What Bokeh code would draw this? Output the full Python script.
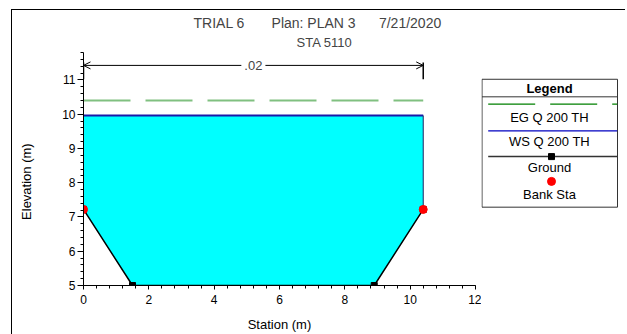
from bokeh.plotting import figure
from bokeh.layouts import row
from bokeh.models import Range1d, SingleIntervalTicker, Label, Arrow, OpenHead, Title
from bokeh.embed import file_html
from bokeh.resources import INLINE
from bokeh.core.properties import value

# ---------------- data ----------------
station = [0.0, 1.5, 8.9, 10.4]
ground_elev = [7.22, 5.0, 5.0, 7.22]
bank_station = [0.0, 10.4]
bank_elev = [7.22, 7.22]
ws_elev = 9.96
eg_elev = 10.40
n_value = ".02"
n_limits = [0.0, 10.4]
x_ticks_interval = 2
y_ticks_interval = 1
title_text = "TRIAL 6" + "\u00a0" * 7 + "Plan: PLAN 3" + "\u00a0" * 6 + "7/21/2020"
subtitle = "STA 5110"
legend_title = "Legend"
legend_labels = ["EG Q 200 TH", "WS Q 200 TH", "Ground", "Bank Sta"]
x_label = "Station (m)"
y_label = "Elevation (m)"

FONT = "Liberation Sans"
Y_START, Y_END = 5.0, 11.8
BORDERS = dict(min_border_top=42, min_border_bottom=47)


# window-pixel y -> elevation (layout helper for the n-value marker only)
def px_y(wy):
    return Y_START + (287.0 - wy) / 34.56


p = figure(width=469, height=324, x_range=Range1d(0, 12), y_range=Range1d(Y_START, Y_END),
           output_backend="svg", toolbar_location=None,
           min_border_left=71, min_border_right=6, **BORDERS)
p.outline_line_color = None
p.grid.visible = False

# titles (the later added title sits nearer to the frame)
p.title.text = title_text
p.title.align = "left"
p.title.offset = 110
p.title.standoff = 0
p.title.text_font = FONT
p.title.text_font_size = "14px"
p.title.text_font_style = "normal"
p.add_layout(Title(text=subtitle, align="left", offset=213, standoff=5, text_font=FONT,
                   text_font_size="13px", text_font_style="normal"), "above")

# ---------------- water area ----------------
water_x = station + [station[-1], station[0]]
water_y = ground_elev + [ws_elev, ws_elev]
p.patch(water_x, water_y, fill_color="#00ffff", line_color=None)

# EG line
p.line([station[0], station[-1]], [eg_elev, eg_elev], line_color="#80c080",
       line_width=2, line_dash="47 15")
# WS line
p.line([station[0], station[-1]], [ws_elev, ws_elev], line_color="#1a1aa8", line_width=2)
# right wall of the water
p.line([station[-1], station[-1]], [ground_elev[-1], ws_elev], line_color="#202060", line_width=1)
# Ground
p.line(station, ground_elev, line_color="black", line_width=1.5)
p.scatter(station, ground_elev, marker="square", size=6, color="black")
# Bank stations
p.scatter(bank_station, bank_elev, marker="circle", size=8, color="red")

# Manning's n marker
n_y = px_y(65)
p.add_layout(Arrow(start=OpenHead(size=7, line_width=1), end=OpenHead(size=7, line_width=1),
                   x_start=n_limits[0], x_end=n_limits[1], y_start=n_y, y_end=n_y,
                   line_width=1, line_color="black"))
for xs in n_limits:
    p.segment(x0=[xs], y0=[px_y(62)], x1=[xs], y1=[px_y(79)], line_color="black", line_width=1.5)
p.add_layout(Label(x=(n_limits[0] + n_limits[1]) / 2, y=n_y, text=n_value,
                   text_align="center", text_baseline="middle", text_font=FONT,
                   text_font_size="13px", background_fill_color="white", padding=3))

# ---------------- axes ----------------
p.xaxis.ticker = SingleIntervalTicker(interval=x_ticks_interval, num_minor_ticks=5)
p.yaxis.ticker = SingleIntervalTicker(interval=y_ticks_interval, num_minor_ticks=5)
for ax in (p.xaxis[0], p.yaxis[0]):
    ax.axis_line_color = "black"
    ax.major_tick_line_color = "black"
    ax.minor_tick_line_color = "black"
    ax.major_tick_in = 0
    ax.minor_tick_in = 0
    ax.major_label_text_font = FONT
    ax.major_label_text_font_size = "12px"
    ax.major_label_text_color = "black"
    ax.major_label_standoff = 2
    ax.axis_label_text_font = FONT
    ax.axis_label_text_font_size = "13px"
    ax.axis_label_text_font_style = "normal"
    ax.axis_label_text_color = "black"
p.xaxis.major_tick_out = 4
p.xaxis.minor_tick_out = 3
p.xaxis.major_label_standoff = 5
p.yaxis.major_tick_out = 6
p.yaxis.minor_tick_out = 3
p.xaxis.axis_label = x_label
p.xaxis.axis_label_standoff = 10
p.yaxis.axis_label = y_label + "\u00a0" * 7
p.yaxis.axis_label_standoff = 25

# ---------------- legend (separate panel, same vertical frame as the chart) ----------------
# legend panel coordinates: x = window px - 481, y = 287 - window px
leg = figure(width=144, height=324, x_range=Range1d(0, 144), y_range=Range1d(0, 235),
             output_backend="svg", toolbar_location=None,
             min_border_left=0, min_border_right=0, **BORDERS)
leg.axis.visible = False
leg.grid.visible = False
leg.outline_line_color = None
leg.quad(left=[0.5], right=[136], top=[208], bottom=[79], fill_color="white",
         line_color="#333333", line_width=1)
leg.line([0.5, 136], [190.3, 190.3], line_color="#333333", line_width=1)
leg.text(x=[68], y=[199], text=[legend_title], text_align="center", text_baseline="middle",
         text_font=value(FONT), text_font_size="13px", text_font_style="bold", text_color="black")
leg.line([6.7, 135.7], [183, 183], line_color="#008000", line_width=1.2, line_dash="47 15")
leg.line([6.7, 135.7], [156, 156], line_color="#0000c0", line_width=1.2)
leg.line([6.7, 135.7], [130, 130], line_color="#333333", line_width=1.5)
leg.scatter([70], [130], marker="square", size=6, color="black")
leg.scatter([70], [105], marker="circle", size=8, color="red")
for lbl, ly in zip(legend_labels, [169.3, 145.3, 119, 92]):
    leg.text(x=[68], y=[ly], text=[lbl], text_align="center", text_baseline="middle",
             text_font=value(FONT), text_font_size="13px", text_color="black")

layout = row(p, leg, styles={"position": "absolute", "left": "11px", "top": "9px",
                             "overflow": "hidden",
                             "border-left": "1px solid #000", "border-top": "1px solid #000"})

open("out.html", "w").write(file_html(layout, INLINE))
